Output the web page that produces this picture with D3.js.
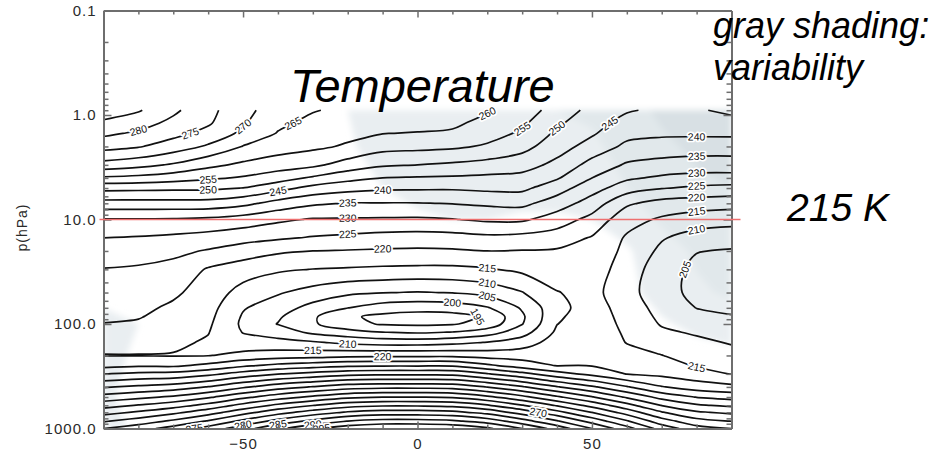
<!DOCTYPE html>
<html>
<head>
<meta charset="utf-8">
<script src="https://cdn.jsdelivr.net/npm/d3@7"></script>
<style>
  body { margin: 0; background: #fff; }
  svg { display: block; }
  .axis .domain { stroke: #6e6e6e; stroke-width: 2; }
  .axis line { stroke: #6e6e6e; stroke-width: 1.5; }
  .axis text { font-family: "Liberation Sans", Arial, sans-serif; font-size: 15px; fill: #2a2a2a; letter-spacing: 1px; }
  .note { font-family: "Liberation Sans", Arial, sans-serif; font-style: italic; fill: #000; }
  .clabel { font-family: "Liberation Sans", Arial, sans-serif; font-size: 10.5px; fill: #111;
            stroke: #fff; stroke-width: 3.5; paint-order: stroke; stroke-linejoin: round; }
</style>
</head>
<body>
<div id="chart"></div>
<script>
// SVG size
var svgWidth = 948;
var svgHeight = 459;

// Data window edges in pixels
var plotLeft = 103.5, plotRight = 731.5, plotTop = 10.5, plotBottom = 428.5;

// Grid: latitude (deg) and pressure (hPa), top to bottom
var lats = [-90, -80, -70, -60, -50, -40, -30, -20, -10, 0, 10, 20, 30, 40, 50, 60, 70, 80, 90];
var levels = [0.9, 1.2, 1.5, 2, 3, 4, 5, 7, 10, 15, 20, 30, 50, 70, 85, 100, 120, 150, 200, 250, 300, 400, 500, 600, 700, 850, 1000];

// Zonal mean temperature (K), one column per latitude
var tempS90 = [288, 283.9, 281, 276.8, 268.1, 259.2, 251.5, 243.2, 234.6, 230, 227.8, 224.8, 222.7, 221.4, 220.6, 219.9, 218.5, 216.9, 214.8, 218.4, 224.9, 234.5, 241.9, 248.0, 253.1, 259.5, 265];
var tempS80 = [285.5, 281.9, 279.2, 275.4, 266.6, 258.5, 251.3, 243.2, 234.6, 229.6, 227.1, 224.4, 222.4, 221.1, 220.3, 219.4, 218.2, 216.7, 214.8, 219.4, 226.0, 236.0, 243.8, 250.3, 255.7, 262.3, 268];
var tempS70 = [281, 278.7, 276.5, 272.6, 264.4, 257.2, 251.1, 243.2, 234.5, 228.9, 226.1, 223.5, 220.8, 219.2, 218.4, 217.7, 216.9, 216, 214.7, 219.2, 226.5, 237.4, 245.8, 252.8, 258.7, 265.9, 272];
var tempS60 = [276.5, 275.6, 273.4, 269.3, 261.3, 255.8, 250.9, 243.1, 234, 228, 224.6, 219.5, 217.9, 216.9, 216.3, 215.8, 215.2, 214.4, 214.8, 221.2, 228.6, 240.2, 249.2, 256.6, 262.8, 270.5, 277];
var tempS50 = [271.5, 270.5, 268.9, 264.8, 259, 254.5, 249.9, 241.4, 232.7, 226.8, 222.5, 217.5, 213.1, 210.4, 209.5, 209.1, 209.8, 212, 216.4, 224.1, 232, 244.2, 253.7, 261.5, 268, 276.2, 283];
var tempS40 = [267.5, 266, 264.7, 262.2, 257.5, 252.2, 246.8, 238.1, 230.9, 225.6, 220.8, 215.7, 210.5, 207.4, 205.7, 204.8, 207.8, 211.5, 217.4, 226.4, 234.7, 247.7, 257.8, 266.1, 273.1, 281.7, 289];
var tempS30 = [265.3, 263.7, 262.5, 261, 256.1, 249.3, 243.4, 235.8, 229.6, 224.6, 220, 214.9, 208.1, 203.3, 200.7, 200.7, 203.9, 210.6, 217.8, 227.8, 236.6, 250.3, 261, 269.8, 277.2, 286.3, 294];
var tempS20 = [264, 262.5, 261.3, 259.4, 252.9, 246.6, 241.7, 234.8, 229.5, 223.8, 219.7, 214.5, 206, 200.1, 195.8, 196.4, 202, 208.8, 218.6, 229.2, 238.4, 252.7, 263.8, 272.9, 280.6, 290.1, 298];
var tempS10 = [263.5, 261.5, 260.1, 256.8, 250.7, 245, 240.8, 234.8, 229.4, 223.1, 219.4, 214.1, 205.2, 197.6, 193.8, 194.6, 200.1, 207.8, 218.8, 229.5, 238.8, 253.5, 264.9, 274.2, 282.1, 291.8, 300];
var tempEq = [263, 261.2, 259.8, 256.4, 250, 244.6, 240.7, 234.8, 229.3, 222.8, 219.2, 213.9, 204.7, 196.8, 193, 194.1, 199.4, 207.8, 218.8, 229.5, 238.8, 253.5, 264.9, 274.2, 282.1, 291.8, 300];
var tempN10 = [262.5, 260.9, 259.3, 255.9, 249.2, 244.3, 240.6, 235.2, 229.8, 223.1, 219.4, 213.9, 205.2, 197.3, 193.2, 194.6, 200.2, 208.6, 218.8, 229.4, 238.6, 253.1, 264.3, 273.5, 281.3, 290.9, 299];
var tempN20 = [260.5, 258.5, 256.8, 254.4, 248.2, 243.9, 241.1, 235.9, 230.8, 223.8, 220, 214.6, 206.8, 199.6, 195.7, 196.8, 202.7, 210.2, 217.9, 226, 235.3, 249.8, 261.1, 270.4, 278.2, 287.9, 296];
var tempN30 = [257.5, 255.8, 254.3, 251.7, 247, 243.5, 241.1, 236.3, 230.8, 223.3, 219.8, 216.1, 209.8, 205.6, 204.2, 204.8, 207.8, 212.7, 217.7, 222.6, 231.5, 245.5, 256.4, 265.3, 272.9, 282.1, 290];
var tempN40 = [253, 250.8, 249.1, 247.1, 243.7, 240.5, 237.3, 232.5, 227.6, 222.4, 219.5, 217.4, 214.8, 213.5, 214.2, 214.9, 215.9, 217.1, 218.6, 219.8, 226.9, 240.3, 250.8, 259.4, 266.6, 275.5, 283];
var tempN50 = [248.5, 246.9, 245.6, 243.1, 238.2, 235, 232, 227.8, 223.4, 219.6, 218.9, 217.7, 216.5, 217.3, 217.7, 218, 218.4, 218.8, 219.4, 219.8, 223.5, 235.8, 245.4, 253.3, 259.9, 268.1, 275];
var tempN60 = [245.5, 243.2, 241.5, 238.9, 234.4, 230.8, 227.4, 220.8, 216.8, 214.4, 213.6, 212.5, 211.9, 212.8, 213.3, 213.7, 214.2, 214.8, 216.7, 218.4, 219.8, 230.4, 239.3, 246.7, 252.9, 260.5, 267];
var tempN70 = [244, 242.2, 240.8, 238.1, 233.2, 229.2, 225.3, 218.1, 214.3, 210.4, 209, 207.4, 206.7, 208.1, 208.9, 209.6, 210.8, 212.7, 215.1, 217.1, 218.7, 225.3, 233.3, 239.8, 245.4, 252.2, 258];
var tempN80 = [244.5, 242.3, 240.8, 237.7, 232.6, 228.4, 224.1, 217.4, 212.6, 207.9, 205.2, 203.8, 203.8, 204.9, 206.3, 207.8, 209.4, 211.1, 213.1, 214.6, 216.9, 222.6, 229.8, 235.7, 240.7, 246.8, 252];
var tempN90 = [246, 243.4, 240.9, 237.6, 232.6, 228.3, 223.4, 216.9, 211.8, 207.2, 204.6, 201.8, 202.4, 204, 205.3, 206.5, 207.9, 209.6, 211.7, 213.4, 214.8, 221.2, 228.2, 234, 238.9, 244.9, 250];

var tempColumns = [tempS90, tempS80, tempS70, tempS60, tempS50, tempS40, tempS30, tempS20, tempS10, tempEq,
                   tempN10, tempN20, tempN30, tempN40, tempN50, tempN60, tempN70, tempN80, tempN90];

// Variability (K) used for the gray shading, one row per level
var varLevels = [0.9, 2, 5, 10, 20, 50, 100, 200, 500, 1000];
var var0p9  = [0.7, 0.6, 0.5, 0.5, 0.5, 0.6, 0.8, 1.0, 1.4, 1.6, 1.7, 1.7, 1.7, 1.8, 1.9, 2.2, 2.5, 2.7, 2.8];
var var2    = [0.6, 0.5, 0.4, 0.4, 0.4, 0.5, 0.7, 0.9, 1.3, 1.5, 1.5, 1.5, 1.5, 1.6, 1.7, 2.0, 2.3, 2.5, 2.6];
var var5    = [0.5, 0.4, 0.3, 0.3, 0.3, 0.4, 0.5, 0.7, 1.0, 1.2, 1.3, 1.3, 1.3, 1.3, 1.5, 1.8, 2.1, 2.3, 2.4];
var var10   = [0.4, 0.3, 0.3, 0.3, 0.3, 0.3, 0.4, 0.5, 0.7, 0.9, 1.0, 1.0, 0.9, 0.9, 1.0, 1.4, 1.9, 2.1, 2.2];
var var20   = [0.4, 0.3, 0.3, 0.3, 0.3, 0.3, 0.3, 0.4, 0.5, 0.6, 0.6, 0.6, 0.5, 0.5, 0.6, 0.9, 1.5, 1.9, 2.1];
var var50   = [0.6, 0.4, 0.3, 0.3, 0.3, 0.3, 0.3, 0.3, 0.4, 0.4, 0.4, 0.4, 0.4, 0.4, 0.5, 0.8, 1.3, 1.7, 1.9];
var var100  = [1.4, 1.0, 0.6, 0.3, 0.3, 0.3, 0.3, 0.3, 0.4, 0.4, 0.4, 0.4, 0.4, 0.4, 0.4, 0.6, 0.9, 1.2, 1.4];
var var200  = [1.2, 0.9, 0.5, 0.3, 0.3, 0.3, 0.3, 0.4, 0.5, 0.5, 0.5, 0.5, 0.4, 0.4, 0.4, 0.4, 0.6, 0.7, 0.8];
var var500  = [1.1, 0.8, 0.5, 0.3, 0.3, 0.3, 0.3, 0.4, 0.5, 0.6, 0.6, 0.5, 0.4, 0.3, 0.3, 0.3, 0.4, 0.5, 0.6];
var var1000 = [1.2, 0.9, 0.5, 0.3, 0.3, 0.3, 0.3, 0.4, 0.5, 0.6, 0.6, 0.5, 0.4, 0.3, 0.3, 0.3, 0.4, 0.5, 0.6];
var varRows = [var0p9, var2, var5, var10, var20, var50, var100, var200, var500, var1000];

var contourLevels = d3.range(195, 300, 5);
var shadeLevels = [1.0, 1.8, 2.4];
var shadeColors = ["#e9eef1", "#e1e8eb", "#d8e0e4"];

// Contour labels: [value, latitude, pressure] near where each label sits
var contourLabels = [
  [280, -79, 1.4], [275, -64, 1.3], [270, -49, 1.35], [265, -34, 1.4], [260, 18, 1.25],
  [255, 32, 1.5], [250, 42, 1.55], [245, 54, 1.4],
  [240, 78, 1.65], [235, 79, 2.55], [230, 80, 3.7], [225, 78, 4.9], [220, 78, 5.8],
  [215, 80, 8.4], [210, 79, 12], [205, 71, 22],
  [255, -62, 4.5], [250, -57, 5.4], [245, -43, 6.2], [240, -10, 5.3], [235, -20, 7.2],
  [230, -23, 10.5], [225, -18, 15], [220, -14, 20],
  [215, 21, 27], [210, 21, 38], [205, 25, 47], [200, 15, 59], [195, 15, 77],
  [215, -26, 178], [210, -18, 166], [220, -11, 207], [215, 81, 310],
  [275, -65, 830], [280, -48, 830], [285, -38, 830], [290, -29, 830], [295, -24, 830], [270, 37, 780]
];

var svg = d3.select("#chart")
  .append("svg")
  .attr("width", svgWidth)
  .attr("height", svgHeight);

var xScale = d3.scaleLinear().domain([-90, 90]).range([plotLeft, plotRight]);
var yScale = d3.scaleLog().domain([0.1, 1000]).range([plotTop, plotBottom]);

var xNodes = lats.map(d => xScale(d));
var yNodes = levels.map(d => yScale(d));
var varYNodes = varLevels.map(d => yScale(d));

// contour grid coordinate -> pixel (value i sits at i + 0.5)
function interpNodes(c, nodes) {
  var f = Math.max(0, Math.min(nodes.length - 1, c - 0.5));
  var i0 = Math.floor(f), i1 = Math.min(i0 + 1, nodes.length - 1);
  return nodes[i0] + (f - i0) * (nodes[i1] - nodes[i0]);
}

var defs = svg.append("defs");
defs.append("clipPath").attr("id", "plotClip")
  .append("rect")
  .attr("x", plotLeft).attr("y", plotTop)
  .attr("width", plotRight - plotLeft).attr("height", plotBottom - plotTop);
defs.append("filter").attr("id", "soft")
  .attr("x", "-5%").attr("y", "-5%").attr("width", "110%").attr("height", "110%")
  .append("feGaussianBlur").attr("stdDeviation", 3);

// Gray shading (variability)
var varValues = [];
varRows.forEach(row => row.forEach(v => varValues.push(v)));
var shadeContours = d3.contours()
  .size([lats.length, varLevels.length])
  .thresholds(shadeLevels)(varValues);

var shadePath = d3.geoPath(d3.geoTransform({
  point: function(px, py) {
    this.stream.point(interpNodes(px, xNodes), interpNodes(py, varYNodes));
  }
}));

svg.append("g")
  .attr("clip-path", "url(#plotClip)")
  .append("g")
  .attr("filter", "url(#soft)")
  .selectAll("path")
  .data(shadeContours)
  .enter()
  .append("path")
  .attr("d", shadePath)
  .attr("fill", (d, i) => shadeColors[i])
  .attr("stroke", "none");

// Temperature contours
var tempValues = [];
levels.forEach((p, j) => lats.forEach((lat, i) => tempValues.push(tempColumns[i][j])));
var nx = lats.length, ny = levels.length;
var tempContours = d3.contours().size([nx, ny]).thresholds(contourLevels)(tempValues);

// points on the padded border of the grid are not real crossings
function onEdge(p) {
  return p[0] <= 0 || p[0] >= nx || p[1] <= 0 || p[1] >= ny;
}

// split a closed ring into open lines made of interior crossings only
function splitRing(ring) {
  var pts = ring.slice(0, ring.length - 1);
  var s = pts.findIndex(onEdge);
  if (s < 0) return [{ pts: pts, closed: true }];
  var rot = pts.slice(s).concat(pts.slice(0, s));
  var out = [], cur = [];
  rot.forEach(function(p) {
    if (onEdge(p)) {
      if (cur.length > 1) out.push({ pts: cur, closed: false });
      cur = [];
    } else {
      cur.push(p);
    }
  });
  if (cur.length > 1) out.push({ pts: cur, closed: false });
  return out;
}

function toPixels(pts) {
  var res = [];
  pts.forEach(function(p) {
    var q = [interpNodes(p[0], xNodes), interpNodes(p[1], yNodes)];
    var last = res[res.length - 1];
    if (!last || Math.hypot(q[0] - last[0], q[1] - last[1]) > 0.3) res.push(q);
  });
  return res;
}

var contourLines = [];
tempContours.forEach(function(c) {
  c.coordinates.forEach(function(poly) {
    poly.forEach(function(ring) {
      splitRing(ring).forEach(function(l) {
        var px = toPixels(l.pts);
        if (px.length > 1) contourLines.push({ value: c.value, pts: px, closed: l.closed });
      });
    });
  });
});

var openLine = d3.line().curve(d3.curveCatmullRom.alpha(0.5));
var closedLine = d3.line().curve(d3.curveCatmullRomClosed.alpha(0.5));

var plotGroup = svg.append("g").attr("clip-path", "url(#plotClip)");

plotGroup.selectAll("path.iso")
  .data(contourLines)
  .enter()
  .append("path")
  .attr("class", "iso")
  .attr("d", d => d.closed ? closedLine(d.pts) : openLine(d.pts))
  .attr("fill", "none")
  .attr("stroke", "#111")
  .attr("stroke-width", 1.7)
  .attr("stroke-linejoin", "round");

// Contour labels, placed on the nearest point of the matching line
contourLabels.forEach(function(lab) {
  var tx = xScale(lab[1]), ty = yScale(lab[2]);
  var best = null;
  contourLines.filter(l => l.value === lab[0]).forEach(function(l) {
    l.pts.forEach(function(p, i) {
      var dist = Math.hypot(p[0] - tx, p[1] - ty);
      if (!best || dist < best.dist) best = { dist: dist, line: l, i: i };
    });
  });
  if (!best || best.dist > 45) return;
  var pts = best.line.pts, i = best.i, n = pts.length;
  var a = pts[Math.max(0, i - 1)], b = pts[Math.min(n - 1, i + 1)];
  if (best.line.closed) { a = pts[(i - 1 + n) % n]; b = pts[(i + 1) % n]; }
  var ang = Math.atan2(b[1] - a[1], b[0] - a[0]) * 180 / Math.PI;
  if (ang > 90) ang -= 180;
  if (ang < -90) ang += 180;
  plotGroup.append("text")
    .attr("class", "clabel")
    .attr("transform", `translate(${pts[i][0]}, ${pts[i][1]}) rotate(${ang})`)
    .attr("text-anchor", "middle")
    .attr("dy", "0.35em")
    .text(lab[0]);
});

// Axes
var majorX = [-50, 0, 50];
var minorX = d3.range(-80, 90, 10).filter(d => majorX.indexOf(d) < 0);
var majorY = [0.1, 1, 10, 100, 1000];
var minorY = [];
[0.1, 1, 10, 100].forEach(function(dec) {
  for (var k = 2; k <= 9; k++) minorY.push(dec * k);
});

svg.append("g").attr("class", "axis")
  .attr("transform", `translate(0, ${plotBottom})`)
  .call(d3.axisBottom(xScale).tickValues(minorX).tickSize(-4).tickFormat(""))
  .select(".domain").remove();
svg.append("g").attr("class", "axis")
  .attr("transform", `translate(0, ${plotTop})`)
  .call(d3.axisTop(xScale).tickValues(minorX).tickSize(-4).tickFormat(""))
  .select(".domain").remove();
svg.append("g").attr("class", "axis")
  .attr("transform", `translate(${plotLeft}, 0)`)
  .call(d3.axisLeft(yScale).tickValues(minorY).tickSize(-5).tickFormat(""))
  .select(".domain").remove();
svg.append("g").attr("class", "axis")
  .attr("transform", `translate(${plotRight}, 0)`)
  .call(d3.axisRight(yScale).tickValues(minorY).tickSize(-5).tickFormat(""))
  .select(".domain").remove();

svg.append("g").attr("class", "axis")
  .attr("transform", `translate(0, ${plotBottom})`)
  .call(d3.axisBottom(xScale).tickValues(majorX).tickSizeInner(-7).tickSizeOuter(0).tickPadding(10));
svg.append("g").attr("class", "axis")
  .attr("transform", `translate(0, ${plotTop})`)
  .call(d3.axisTop(xScale).tickValues(majorX).tickSizeInner(-7).tickSizeOuter(0).tickFormat(""));
svg.append("g").attr("class", "axis")
  .attr("transform", `translate(${plotLeft}, 0)`)
  .call(d3.axisLeft(yScale).tickValues(majorY).tickFormat(d3.format(".1f"))
    .tickSizeInner(-8).tickSizeOuter(0).tickPadding(7));
svg.append("g").attr("class", "axis")
  .attr("transform", `translate(${plotRight}, 0)`)
  .call(d3.axisRight(yScale).tickValues(majorY).tickFormat("").tickSizeInner(-8).tickSizeOuter(0));

// y axis title
svg.append("text")
  .attr("transform", `translate(27, ${(plotTop + plotBottom) / 2 + 8}) rotate(-90)`)
  .attr("text-anchor", "middle")
  .attr("font-family", "Liberation Sans, Arial, sans-serif")
  .attr("font-size", "14px")
  .attr("letter-spacing", "1px")
  .attr("fill", "#2a2a2a")
  .text("p(hPa)");

// red reference line at 10 hPa
svg.append("line")
  .attr("x1", plotLeft - 4).attr("x2", plotRight + 9)
  .attr("y1", yScale(10)).attr("y2", yScale(10))
  .attr("stroke", "#ee6f6f")
  .attr("stroke-width", 1.3);

// Annotations
svg.append("text").attr("class", "note")
  .attr("x", 290).attr("y", 102)
  .attr("font-size", "47px")
  .text("Temperature");
svg.append("text").attr("class", "note")
  .attr("x", 713).attr("y", 38)
  .attr("font-size", "36px")
  .text("gray shading:");
svg.append("text").attr("class", "note")
  .attr("x", 713).attr("y", 80)
  .attr("font-size", "36px")
  .text("variability");
svg.append("text").attr("class", "note")
  .attr("x", 787).attr("y", 221)
  .attr("font-size", "39px")
  .text("215 K");
</script>
</body>
</html>
